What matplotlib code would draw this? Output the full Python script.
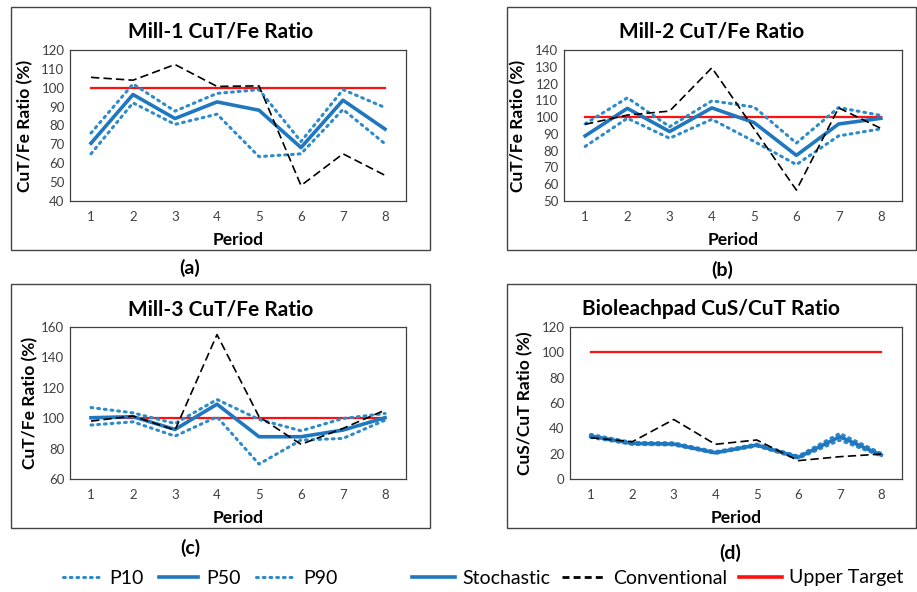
import matplotlib.pyplot as plt
from matplotlib.patches import Rectangle
from matplotlib.lines import Line2D

periods = [1, 2, 3, 4, 5, 6, 7, 8]
target = 100

# Mill-1
m1_p10 = [65, 92, 80.6, 86, 63.5, 65, 88.5, 70.3]
m1_p50 = [70.6, 96.4, 83.7, 92.5, 88.1, 68.3, 93.4, 78.1]
m1_p90 = [76, 102, 87.6, 97, 99, 71.5, 99, 89.5]
m1_conv = [105.5, 104, 112.3, 100.7, 101, 48.2, 65, 53.6]

# Mill-2
m2_p10 = [82.5, 99.3, 87.4, 98.7, 85.5, 71.7, 88.8, 93]
m2_p50 = [88.8, 105.2, 91.4, 105.5, 96.7, 77.2, 95.9, 99.3]
m2_p90 = [96, 111.5, 94.3, 109.7, 106, 84.5, 105.7, 101]
m2_conv = [95.7, 101.2, 103.6, 129.4, 93, 56.5, 105.5, 93.3]

# Mill-3
m3_p10 = [95.5, 97.6, 88.2, 100.9, 69.8, 85.6, 86.7, 98.7]
m3_p50 = [100.3, 101, 92.6, 109.2, 87.8, 87.8, 92.2, 100.3]
m3_p90 = [107, 103.5, 96.5, 112.3, 99.2, 91.7, 99.8, 103.1]
m3_conv = [98.1, 101.4, 92.2, 155, 101, 82.8, 93.3, 105.3]

# Bioleachpad
bl_p10 = [32.8, 27.3, 26.8, 20.2, 26, 16.3, 30.7, 18.1]
bl_p50 = [33.9, 28.1, 27.6, 20.7, 26.8, 17.1, 33.4, 18.9]
bl_p90 = [35.2, 28.9, 28.6, 21.6, 27.6, 18.1, 36, 20.2]
bl_conv = [32.6, 29.4, 47, 27.4, 30.8, 14.5, 17.6, 19.7]

blue = '#1F77C0'
dot_blue = '#2E8BC9'
red = '#FF1010'
FONT = ['Lato', 'DejaVu Sans']

W, H = 917, 592
fig = plt.figure(figsize=(W / 100, H / 100), dpi=100)


def fx(px):
    return px / W


def fy(py):
    return 1 - py / H


panels = [
    # title, ylabel, data, ylim, yticks, box(px), axes(px), ylabel x(px), letter, letter pos
    ("Mill-1 CuT/Fe Ratio", "CuT/Fe Ratio (%)", (m1_p10, m1_p50, m1_p90, m1_conv),
     (40, 120), range(40, 121, 10), (11, 7, 430, 250), (70, 50, 406, 201), 25, "(a)", (190, 268)),
    ("Mill-2 CuT/Fe Ratio", "CuT/Fe Ratio (%)", (m2_p10, m2_p50, m2_p90, m2_conv),
     (50, 140), range(50, 141, 10), (507, 7, 916, 250), (564, 50, 902, 201), 518, "(b)", (722, 270)),
    ("Mill-3 CuT/Fe Ratio", "CuT/Fe Ratio (%)", (m3_p10, m3_p50, m3_p90, m3_conv),
     (60, 160), range(60, 161, 20), (11, 284, 430, 528), (70, 327, 406, 479), 30, "(c)", (190, 548)),
    ("Bioleachpad CuS/CuT Ratio", "CuS/CuT Ratio (%)", (bl_p10, bl_p50, bl_p90, bl_conv),
     (0, 120), range(0, 121, 20), (507, 284, 916, 528), (570, 327, 902, 479), 525, "(d)", (730, 553)),
]

for title, ylabel, (p10, p50, p90, conv), ylim, yticks, box, apos, ylx, letter, lpos in panels:
    bx0, by0, bx1, by1 = box
    fig.patches.append(Rectangle((fx(bx0), fy(by1)), fx(bx1 - bx0), (by1 - by0) / H,
                                 transform=fig.transFigure, fill=False,
                                 edgecolor='#444444', linewidth=1.0))
    ax0, ay0, ax1, ay1 = apos
    ax = fig.add_axes([fx(ax0), fy(ay1), fx(ax1 - ax0), (ay1 - ay0) / H])
    ax.plot(periods, [target] * len(periods), color=red, lw=1.6, zorder=2)
    ax.plot(periods, p10, color=dot_blue, lw=2.2, linestyle=(0, (0.6, 1.6)),
            dash_capstyle='round', zorder=3)
    ax.plot(periods, p90, color=dot_blue, lw=2.2, linestyle=(0, (0.6, 1.6)),
            dash_capstyle='round', zorder=3)
    ax.plot(periods, p50, color=blue, lw=2.6, zorder=4)
    ax.plot(periods, conv, color='black', lw=1.2, linestyle=(0, (5, 2.5)), zorder=5)
    ax.set_xlim(0.5, 8.5)
    ax.set_ylim(*ylim)
    ax.set_yticks(list(yticks))
    ax.set_xticks(periods)
    ax.tick_params(length=0, labelsize=9.5, colors='#404040', pad=4)
    ax.tick_params(axis='x', pad=7)
    for lab in ax.get_xticklabels() + ax.get_yticklabels():
        lab.set_family(FONT)
    for s in ax.spines.values():
        s.set_color('#404040')
        s.set_linewidth(0.9)
    ax.set_xlabel("Period", fontsize=12.5, fontweight='bold', family=FONT)
    ax.xaxis.set_label_coords(0.5, -31 / (ay1 - ay0), transform=ax.transAxes)
    ax.set_ylabel(ylabel, fontsize=12.5, fontweight='bold', family=FONT, va='center')
    ax.yaxis.set_label_coords((ylx - ax0) / (ax1 - ax0), 0.5, transform=ax.transAxes)
    fig.text(fx((bx0 + bx1) / 2), fy(by0 + 25), title, ha='center', va='center',
             fontsize=15, fontweight='bold', family=FONT)
    fig.text(fx(lpos[0]), fy(lpos[1]), letter, ha='center', va='center',
             fontsize=14, fontweight='bold', family=FONT)

dot_handle = Line2D([], [], color=dot_blue, lw=2.2, linestyle=(0, (0.6, 1.6)),
                    dash_capstyle='round')
p50_handle = Line2D([], [], color=blue, lw=2.6)
leg1 = fig.legend([dot_handle, p50_handle, dot_handle], ["P10", "P50", "P90"],
                  loc='center', bbox_to_anchor=(fx(200), fy(578)), ncol=3, frameon=False,
                  prop={'family': FONT, 'size': 14}, handlelength=2.0,
                  columnspacing=0.8, handletextpad=0.4)
leg2 = fig.legend([Line2D([], [], color=blue, lw=2.6),
                   Line2D([], [], color='black', lw=2, linestyle=(0, (2.5, 1.5))),
                   Line2D([], [], color=red, lw=2.6)],
                  ["Stochastic", "Conventional", "Upper Target"],
                  loc='center', bbox_to_anchor=(fx(658), fy(578)), ncol=3, frameon=False,
                  prop={'family': FONT, 'size': 14}, handlelength=2.2,
                  columnspacing=0.6, handletextpad=0.4)

fig.savefig("out.png", dpi=100)
